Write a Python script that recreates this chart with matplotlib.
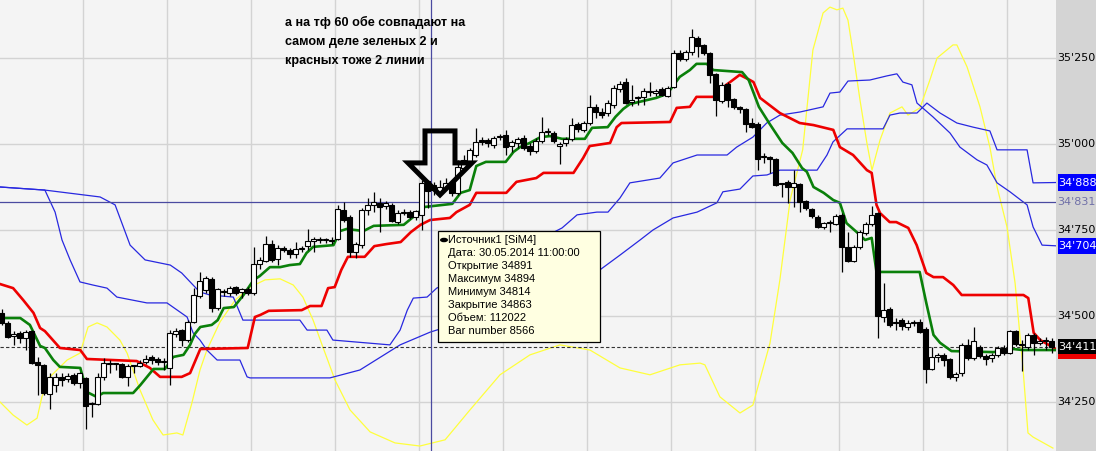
import numpy as np
import matplotlib
matplotlib.use("Agg")
import matplotlib.pyplot as plt
from matplotlib.patches import Rectangle, Polygon, Ellipse

opens = [34509, 34480, 34442, 34451, 34436, 34456, 34366, 34358, 34273, 34299,
         34323, 34317, 34329, 34305, 34320, 34247, 34244, 34323, 34363, 34361,
         34361, 34323, 34355, 34355, 34366, 34381, 34375, 34366, 34349, 34448,
         34459, 34430, 34483, 34558, 34576, 34608, 34523, 34570, 34567, 34584,
         34570, 34578, 34567, 34651, 34660, 34709, 34666, 34698, 34692, 34680,
         34695, 34703, 34718, 34721, 34721, 34718, 34724, 34808, 34788, 34686,
         34706, 34808, 34823, 34829, 34820, 34823, 34773, 34799, 34802, 34788,
         34794, 34891, 34881, 34861, 34872, 34887, 34858, 34930, 34948, 34968,
         35012, 35012, 34997, 35020, 35026, 34994, 35003, 35017, 34994, 34980,
         35009, 35035, 35032, 34994, 35003, 35015, 35058, 35041, 35061, 35108,
         35093, 35090, 35113, 35160, 35180, 35122, 35134, 35137, 35151, 35148,
         35160, 35140, 35166, 35265, 35247, 35267, 35308, 35288, 35265, 35204,
         35125, 35174, 35131, 35108, 35102, 35061, 35058, 34962, 34962, 34956,
         34884, 34890, 34875, 34884, 34834, 34811, 34788, 34759, 34770, 34767,
         34794, 34701, 34660, 34701, 34741, 34767, 34799, 34497, 34520, 34480,
         34488, 34468, 34480, 34483, 34462, 34346, 34381, 34387, 34375, 34323,
         34334, 34416, 34378, 34410, 34384, 34378, 34387, 34407, 34392, 34456,
         34416, 34410, 34445, 34422, 34427, 34427]
highs = [34520, 34486, 34456, 34456, 34459, 34459, 34381, 34361, 34334, 34334,
         34334, 34334, 34334, 34337, 34323, 34250, 34334, 34378, 34372, 34364,
         34363, 34361, 34357, 34372, 34387, 34387, 34381, 34378, 34459, 34465,
         34462, 34488, 34581, 34628, 34616, 34613, 34581, 34578, 34587, 34587,
         34581, 34584, 34701, 34672, 34733, 34721, 34706, 34703, 34698, 34715,
         34703, 34753, 34730, 34730, 34727, 34730, 34823, 34831, 34794, 34715,
         34814, 34843, 34861, 34843, 34834, 34829, 34808, 34811, 34808, 34808,
         34895, 34894, 34890, 34895, 34901, 34895, 34954, 34968, 34988, 35047,
         35020, 35017, 35023, 35029, 35041, 35012, 35020, 35026, 35003, 35017,
         35079, 35047, 35038, 35006, 35020, 35076, 35064, 35067, 35142, 35116,
         35105, 35128, 35172, 35183, 35192, 35172, 35140, 35163, 35180, 35160,
         35166, 35169, 35273, 35273, 35273, 35334, 35314, 35291, 35267, 35206,
         35180, 35180, 35134, 35111, 35105, 35076, 35064, 34974, 34965, 34959,
         34887, 34895, 34924, 34887, 34837, 34814, 34794, 34773, 34779, 34797,
         34799, 34744, 34706, 34750, 34773, 34820, 34802, 34596, 34526, 34494,
         34494, 34488, 34488, 34491, 34468, 34410, 34392, 34392, 34378, 34337,
         34422, 34433, 34468, 34416, 34390, 34392, 34413, 34416, 34459, 34459,
         34430, 34451, 34451, 34436, 34439, 34436]
lows = [34474, 34436, 34416, 34422, 34401, 34361, 34270, 34270, 34230, 34279,
        34297, 34308, 34299, 34291, 34172, 34206, 34241, 34314, 34334, 34343,
        34320, 34297, 34334, 34352, 34361, 34361, 34358, 34343, 34299, 34439,
        34413, 34424, 34480, 34552, 34567, 34512, 34517, 34558, 34558, 34561,
        34552, 34561, 34561, 34637, 34657, 34657, 34648, 34686, 34669, 34669,
        34686, 34692, 34686, 34712, 34712, 34709, 34721, 34773, 34672, 34669,
        34698, 34794, 34802, 34744, 34811, 34773, 34767, 34794, 34782, 34779,
        34750, 34814, 34852, 34849, 34866, 34849, 34852, 34924, 34939, 34962,
        34997, 34991, 34988, 35012, 34968, 34977, 34988, 34983, 34968, 34974,
        35003, 35026, 35003, 34942, 34994, 35009, 35035, 35035, 35055, 35076,
        35076, 35081, 35105, 35151, 35116, 35111, 35113, 35113, 35140, 35140,
        35140, 35137, 35163, 35241, 35241, 35259, 35253, 35259, 35177, 35081,
        35119, 35108, 35102, 35090, 35035, 35047, 34924, 34945, 34916, 34878,
        34846, 34829, 34817, 34802, 34808, 34785, 34756, 34753, 34744, 34765,
        34628, 34657, 34657, 34695, 34735, 34762, 34436, 34483, 34468, 34459,
        34459, 34459, 34471, 34451, 34305, 34343, 34366, 34355, 34317, 34311,
        34326, 34372, 34372, 34378, 34358, 34366, 34381, 34387, 34390, 34413,
        34340, 34401, 34387, 34416, 34401, 34392]
closes = [34480, 34439, 34448, 34436, 34453, 34363, 34358, 34276, 34323, 34323,
          34314, 34326, 34305, 34334, 34238, 34244, 34323, 34363, 34361, 34360,
          34323, 34355, 34356, 34363, 34375, 34372, 34366, 34367, 34451, 34456,
          34430, 34483, 34561, 34602, 34611, 34523, 34578, 34571, 34581, 34567,
          34578, 34567, 34651, 34663, 34709, 34663, 34698, 34692, 34680, 34695,
          34696, 34718, 34724, 34722, 34722, 34719, 34811, 34779, 34686, 34709,
          34808, 34823, 34831, 34817, 34829, 34776, 34799, 34800, 34788, 34805,
          34887, 34863, 34866, 34875, 34887, 34858, 34933, 34954, 34983, 35006,
          35006, 35003, 35017, 35023, 34991, 35006, 35015, 34988, 34980, 35009,
          35035, 35036, 35009, 35000, 35015, 35055, 35044, 35061, 35108, 35093,
          35084, 35119, 35163, 35174, 35119, 35128, 35135, 35154, 35152, 35154,
          35142, 35163, 35265, 35247, 35267, 35311, 35285, 35265, 35201, 35128,
          35172, 35128, 35108, 35102, 35058, 35049, 34956, 34963, 34956, 34881,
          34883, 34875, 34887, 34831, 34814, 34791, 34759, 34770, 34771, 34791,
          34701, 34660, 34701, 34744, 34767, 34794, 34500, 34517, 34474, 34479,
          34471, 34480, 34481, 34453, 34346, 34381, 34387, 34372, 34323, 34331,
          34416, 34378, 34427, 34384, 34375, 34387, 34407, 34392, 34456, 34419,
          34417, 34445, 34422, 34427, 34428, 34411]

# indicator lines, vertices (bar index, price)
green_x = [-0.3, 3.1, 4.7, 6.4, 7.2, 8.6, 9.7, 13.1, 14.2, 15.8, 16.9, 21.9, 23.1, 25.3, 27.2, 28.6,
           30.3, 31.4, 32.2, 33.1, 35, 36, 37, 38.7, 40.3, 42, 43, 44.7, 46.4, 48, 49.7, 50.8, 51.9,
           55.3, 56.4, 57.5, 60.3, 62, 67, 68.6, 70.5, 75.1, 76.5, 78, 79.1, 80.7, 84, 85.3, 86.4,
           88, 89.8, 91.4, 93.4, 97.2, 98.4, 101, 102.3, 103.6, 104.7, 106.9, 109.1, 110.3, 111.4,
           113, 114.7, 115.8, 117.5, 118.6, 123.4, 124.5, 126.2, 127.9, 130.1, 131.8, 133.4, 134.2,
           135.3, 137, 138.6, 139.7, 140.8, 142.5, 143.9, 145, 145.8, 153, 154.1, 155.3, 156.4,
           158.3, 165.3, 168.6, 170.2, 175.7]
green_y = [34494, 34494, 34474, 34413, 34407, 34372, 34352, 34349, 34279, 34265, 34276, 34276, 34299,
           34346, 34346, 34381, 34387, 34416, 34448, 34468, 34474, 34488, 34523, 34526, 34561, 34605,
           34616, 34642, 34642, 34648, 34651, 34683, 34701, 34706, 34747, 34753, 34747, 34762, 34765,
           34788, 34817, 34826, 34858, 34866, 34936, 34948, 34948, 34977, 34991, 35003, 35020, 35023,
           35015, 35015, 35047, 35049, 35079, 35102, 35116, 35125, 35134, 35142, 35157, 35195, 35215,
           35233, 35233, 35215, 35209, 35186, 35108, 35061, 35003, 34974, 34930, 34919, 34875, 34858,
           34837, 34829, 34770, 34744, 34721, 34727, 34628, 34628, 34538, 34445, 34422, 34398, 34395,
           34404, 34401, 34401]

red_x = [-0.3, 1.9, 3.6, 5.3, 6.4, 7.2, 9.7, 13.1, 14.2, 22.5, 24.7, 26.4, 30, 31.4, 33.1, 41, 42.2,
         43.1, 44.5, 50, 51.4, 53.3, 54.4, 55.5, 56.6, 57.7, 60.5, 62.1, 64.1, 66.5, 68.2, 69.8, 71.4,
         74.7, 75.8, 78, 79.1, 84.1, 85.8, 89.1, 90.3, 95.3, 96.9, 98, 101.4, 102.5, 103.3, 111.4,
         112.5, 114.7, 115.8, 118.6, 120.3, 121.4, 123, 124.7, 125.3, 126.4, 129.7, 133, 135.3, 138.6,
         139.7, 141.9, 144.2, 145, 145.8, 146.4, 148, 149.1, 151.1, 152.5, 154.1, 155.3, 156.9, 158.6,
         160, 170.3, 171.1, 172, 173.1, 175.7]
red_y = [34593, 34581, 34546, 34509, 34465, 34456, 34407, 34401, 34375, 34369, 34349, 34323, 34323,
         34334, 34404, 34407, 34497, 34503, 34515, 34517, 34529, 34529, 34581, 34584, 34634, 34672,
         34672, 34703, 34709, 34715, 34744, 34765, 34779, 34785, 34802, 34823, 34858, 34858, 34890,
         34901, 34916, 34916, 34959, 34994, 35003, 35049, 35061, 35064, 35105, 35108, 35137, 35137,
         35166, 35180, 35201, 35186, 35180, 35134, 35090, 35061, 35055, 35041, 34991, 34968, 34924,
         34916, 34823, 34799, 34773, 34773, 34756, 34706, 34625, 34613, 34613, 34590, 34561, 34561,
         34552, 34451, 34430, 34404]

band1_x = [-0.28, 7.2, 16.4, 18.9, 21.4, 23.9, 28.1, 30.0, 31.9, 33.0, 34.7, 38.6, 40.2, 49.7, 50.9,
           54.2, 55.2, 64.7, 66.4, 67.6, 68.6, 70.9, 72.5, 83.05, 93.4, 95.9, 99.2, 101.05, 103.05,
           104.7, 109.7, 111.9, 115.9, 120.9, 122.5, 125.2, 127.5, 129.7, 133.05, 136.9, 138.05,
           139.7, 141.05, 144.7, 147.55, 149.2, 150.2, 151.7, 152.55, 155.2, 158.05, 159.7, 162.55,
           164.2, 165.9, 168.05, 170.9, 171.9, 173.4, 175.7]
band1_y = [34875, 34866, 34846, 34823, 34706, 34663, 34648, 34625, 34590, 34570, 34561, 34555, 34488,
           34488, 34459, 34459, 34430, 34416, 34459, 34517, 34552, 34555, 34581, 34663, 34756, 34794,
           34802, 34802, 34843, 34887, 34901, 34945, 34968, 34968, 34991, 35020, 35061, 35084, 35093,
           35108, 35148, 35151, 35183, 35186, 35198, 35204, 35180, 35172, 35119, 35079, 35032, 34991,
           34954, 34939, 34887, 34861, 34823, 34759, 34706, 34704]

band2_x = [-0.28, 7.2, 8.9, 10.05, 11.4, 13.05, 15.2, 17.55, 19.2, 24.2, 27.55, 30.9, 31.9, 33.05, 34.2,
           35.9, 39.7, 40.9, 41.4, 54.7, 59.7, 66.4, 71.4, 83.05, 96.9, 99.7, 103.05, 106.4, 108.55,
           111.9, 115.9, 119.2, 120.2, 123.05, 125.2, 127.55, 129.7, 135.9, 137.55, 138.55, 140.9,
           146.9, 148.05, 149.7, 152.55, 154.2, 156.4, 159.2, 161.9, 164.7, 165.9, 170.9, 171.9, 175.7]
band2_y = [34875, 34866, 34802, 34721, 34663, 34599, 34590, 34581, 34555, 34538, 34538, 34497, 34451,
           34430, 34401, 34372, 34372, 34323, 34320, 34320, 34343, 34416, 34453, 34517, 34599, 34634,
           34677, 34721, 34750, 34785, 34802, 34829, 34861, 34869, 34907, 34910, 34924, 34924, 34968,
           35006, 35044, 35044, 35084, 35090, 35090, 35119, 35090, 35061, 35049, 35038, 34983, 34983,
           34887, 34888]

yellow_x = [-0.28, 1.9, 4.2, 5.9, 6.7, 8.05, 10.9, 13.05, 14.4, 15.9, 17.55, 19.7, 20.9, 23.05, 25.2,
            26.9, 29.2, 30.2, 31.7, 33.05, 34.2, 36.4, 38.9, 41.4, 43.9, 46.4, 48.6, 50.2, 51.9, 53.4,
            55.55, 58.05, 61.4, 65.55, 69.7, 73.9, 78.05, 83.05, 88.05, 93.05, 98.05, 103.05, 108.05,
            113.05, 116.4, 117.2, 119.7, 123.05, 125.2, 128.05, 129.7, 131.4, 133.5, 135.2, 136.9,
            138.05, 139.2, 140.2, 141.05, 141.9, 143.05, 144.2, 145.05, 146.4, 148.05, 150.05, 151.05,
            153.05, 154.7, 155.9, 158.55, 159.2, 160.9, 163.05, 164.7, 165.9, 167.55, 168.9, 170.2,
            171.05, 171.9, 175.2]
yellow_y = [34250, 34212, 34183, 34203, 34265, 34323, 34372, 34392, 34468, 34480, 34468, 34430, 34392,
            34285, 34198, 34154, 34160, 34154, 34247, 34343, 34401, 34483, 34546, 34584, 34605, 34608,
            34590, 34555, 34488, 34416, 34314, 34227, 34163, 34131, 34122, 34140, 34227, 34329, 34387,
            34416, 34401, 34349, 34329, 34358, 34363, 34358, 34265, 34218, 34241, 34421, 34605, 34837,
            34983, 35273, 35381, 35398, 35390, 35395, 35360, 35265, 35128, 35003, 34924, 35012, 35090,
            35108, 35084, 35105, 35186, 35250, 35288, 35288, 35224, 35108, 34991, 34875, 34759, 34596,
            34352, 34160, 34148, 34116]

price_ticks = [35250, 35000, 34750, 34500, 34250]
last_price = 34411
cross_bar = 71.5
cross_price = 34831

tooltip_lines = ["Источник1 [SiM4]", "Дата: 30.05.2014 11:00:00", "Открытие 34891",
                 "Максимум 34894", "Минимум 34814", "Закрытие 34863", "Объем: 112022",
                 "Bar number 8566"]
note_lines = ["а на тф 60 обе совпадают на", "самом деле зеленых 2 и", "красных тоже 2 линии"]


def fmt(p):
    return "%d'%03d" % (p // 1000, p % 1000)


W, H = 1096, 451
fig = plt.figure(figsize=(W / 100, H / 100), dpi=100)
ax = fig.add_axes([0, 0, 1056 / W, 1])
pax = fig.add_axes([1056 / W, 0, 40 / W, 1], sharey=ax)

ax.set_facecolor("#f4f4f4")
ax.set_xlim(-0.283, 175.72)
ax.set_ylim(34107.5, 35418.6)
ax.set_xticks(np.arange(13.55, 176, 14))
ax.set_yticks(price_ticks)
ax.grid(True, color="#d3d3d3", lw=1.0)
ax.tick_params(length=0, labelbottom=False, labelleft=False)
for s in ax.spines.values():
    s.set_visible(False)

pax.set_facecolor("#d4d4d4")
pax.set_xlim(0, 1)
pax.tick_params(length=0, labelbottom=False, labelleft=False)
for s in pax.spines.values():
    s.set_visible(False)

# indicators
ax.plot(yellow_x, yellow_y, color="#ffff3c", lw=0.9, zorder=2)
ax.plot(band1_x, band1_y, color="#2828e0", lw=0.9, zorder=2)
ax.plot(band2_x, band2_y, color="#2828e0", lw=0.9, zorder=2)
ax.plot(red_x, red_y, color="#ee0000", lw=1.9, zorder=2.2)
ax.plot(green_x, green_y, color="#0a800a", lw=1.9, zorder=2.3)

ax.axhline(last_price, color="#333333", lw=0.8, ls=(0, (3, 2)), zorder=2.1)
ax.axhline(cross_price, color="#4a4aa0", lw=0.9, zorder=2.4)
ax.axvline(cross_bar, color="#4a4aa0", lw=0.9, zorder=2.4)

# candles
o = np.array(opens)
h = np.array(highs)
l = np.array(lows)
c = np.array(closes)
x = np.arange(len(o))
up = c >= o
bottom = np.minimum(o, c)
height = np.maximum(np.abs(c - o), 2.5)
ax.vlines(x, l, h, color="black", lw=0.9, zorder=3)
ax.bar(x[up], height[up], bottom=bottom[up], width=0.8, facecolor="white",
       edgecolor="black", lw=0.8, zorder=4)
ax.bar(x[~up], height[~up], bottom=bottom[~up], width=0.8, facecolor="black",
       edgecolor="black", lw=0.8, zorder=4)

# big hollow arrow
arrow = [(70.55, 35038), (75.55, 35038), (75.55, 34945), (78.38, 34945),
         (73.05, 34852), (67.72, 34945), (70.55, 34945)]
ax.add_patch(Polygon(arrow, closed=True, fill=False, edgecolor="black", lw=3.6,
                     joinstyle="miter", zorder=6))

# price panel
tr = pax.get_yaxis_transform()
for p in price_ticks:
    pax.text(0.04, p, fmt(p), transform=tr, va="center", ha="left", fontsize=8, color="black")

pax.add_patch(Rectangle((0.04, band1_y[-1] - 24), 0.96, 48, transform=tr, facecolor="#0000ff",
                        edgecolor="none", zorder=3))
pax.text(0.06, band1_y[-1], fmt(band1_y[-1]), transform=tr, va="center", ha="left",
         fontsize=8, color="white", zorder=4)
pax.add_patch(Rectangle((0.04, band2_y[-1] - 24), 0.96, 48, transform=tr, facecolor="#0000ff",
                        edgecolor="none", zorder=3))
pax.text(0.06, band2_y[-1], fmt(band2_y[-1]), transform=tr, va="center", ha="left",
         fontsize=8, color="white", zorder=4)
pax.text(0.04, cross_price, fmt(cross_price), transform=tr, va="center", ha="left",
         fontsize=8, color="#7070a8", zorder=4)
pax.add_patch(Rectangle((0.04, red_y[-1] - 28), 0.96, 48, transform=tr, facecolor="#ee0000",
                        edgecolor="none", zorder=3))
pax.add_patch(Rectangle((0.04, last_price - 22), 0.96, 44, transform=tr, facecolor="black",
                        edgecolor="none", zorder=3.5))
pax.text(0.06, last_price, fmt(last_price), transform=tr, va="center", ha="left",
         fontsize=8, color="white", zorder=4)

# tooltip box
fig.add_artist(Rectangle((438 / W, 1 - 342 / H), 162 / W, 111 / H, transform=fig.transFigure,
                         facecolor="#ffffe1", edgecolor="black", lw=0.9, zorder=10))
fig.add_artist(Ellipse((444 / W, 1 - 240 / H), 8 / W, 4.5 / H, transform=fig.transFigure,
                       facecolor="black", edgecolor="none", zorder=11))
for k, t in enumerate(tooltip_lines):
    fig.text(448 / W, 1 - (240 + 13 * k) / H, t, va="center", ha="left", fontsize=8,
             family="Liberation Sans", color="black", zorder=11)

for k, t in enumerate(note_lines):
    fig.text(285 / W, 1 - (22 + 19.5 * k) / H, t, va="center", ha="left", fontsize=9.1,
             family="Liberation Sans", fontweight="bold", color="black", zorder=11)

plt.savefig("out.png", dpi=100)
